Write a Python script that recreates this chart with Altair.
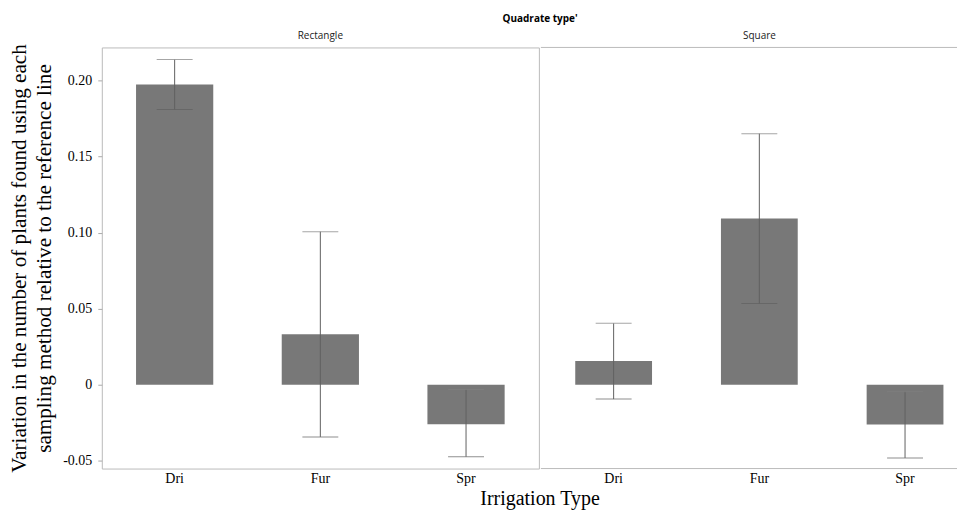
import altair as alt
import pandas as pd

quad = ["Rectangle", "Rectangle", "Rectangle", "Square", "Square", "Square"]
irrig = ["Dri", "Fur", "Spr", "Dri", "Fur", "Spr"]
mean = [0.1974, 0.0331, -0.0260, 0.0156, 0.1093, -0.0262]
lo = [0.1810, -0.0344, -0.0474, -0.0095, 0.0534, -0.0482]
hi = [0.2138, 0.1006, -0.0032, 0.0403, 0.1651, -0.0047]

df = pd.DataFrame({"quad": quad, "irrig": irrig, "mean": mean, "lo": lo, "hi": hi})

yticks = [-0.05, 0, 0.05, 0.1, 0.15, 0.2]
ydomain = [-0.0552, 0.2218]

PW = 438      # left panel width
RW = 417      # visible width of the right panel
PH = 422

yscale = alt.Scale(domain=ydomain, nice=False, zero=False)

x_axis = alt.Axis(ticks=False, domain=False, labelAngle=0, labelPadding=3,
                  labelFont="Liberation Serif", labelFontSize=14, labelColor="#000")
y_axis = alt.Axis(values=yticks, domain=False, grid=False, tickSize=4, tickColor="#aaaaaa",
                  labelPadding=6, labelFont="Liberation Serif", labelFontSize=14, labelColor="#000",
                  labelExpr="datum.value == 0 ? '0' : replace(format(datum.value, '.2f'), '\u2212', '-')",
                  title=["Variation in the number of plants found using each",
                         "sampling method relative to the reference line"],
                  titleFont="Liberation Serif", titleFontSize=21.2, titleFontWeight="normal",
                  titleColor="#000", titlePadding=8, titleLineHeight=25)


def panel(name, show_y, width, xs, title_dx, title_offset):
    sub = df[df["quad"] == name]
    base = alt.Chart(sub)
    bars = base.mark_bar(color="#787878").encode(
        x=alt.X("irrig:N", scale=xs, title=None, axis=x_axis),
        y=alt.Y("mean:Q", scale=yscale, axis=y_axis if show_y else None),
    )
    rules = base.mark_rule(color="#606060", strokeWidth=1).encode(
        x="irrig:N", y="lo:Q", y2="hi:Q"
    )
    cap_lo = base.mark_tick(color="#606060", size=36, thickness=1).encode(x="irrig:N", y="lo:Q")
    cap_hi = base.mark_tick(color="#808080", size=36, thickness=1).encode(x="irrig:N", y="hi:Q")
    layers = [bars, rules, cap_lo, cap_hi]
    props = dict(width=width, height=PH,
                 title=alt.TitleParams(name, font="Open Sans", fontSize=10, fontWeight="normal",
                                       color="#222", anchor="middle", frame="group",
                                       offset=title_offset, dx=title_dx))
    if not show_y:
        one = alt.Chart(alt.Data(values=[{"k": 0}]))
        top = one.mark_rule(color="#bbbbbb").encode(
            x=alt.value(0), x2=alt.value(width), y=alt.value(0))
        bot = one.mark_rule(color="#bbbbbb").encode(
            x=alt.value(0), x2=alt.value(width), y=alt.value(PH))
        layers += [top, bot]
        props["view"] = alt.ViewBackground(stroke="transparent")
    return alt.layer(*layers).properties(**props)


left = panel("Rectangle", True, PW,
             alt.Scale(paddingInner=0.47, paddingOuter=0.235), 0, 3)
right = panel("Square", False, RW,
              alt.Scale(paddingInner=0.473, paddingOuter=0.1645, align=0.717), (PW - RW) / 2, 6)

inner = alt.hconcat(left, right, spacing=0).properties(
    title=alt.TitleParams("Irrigation Type", orient="bottom", anchor="middle", frame="bounds",
                          font="Liberation Serif", fontSize=20, fontWeight="normal",
                          color="#000", offset=3, dx=57)
)

chart = alt.vconcat(inner).properties(
    title=alt.TitleParams("Quadrate type'", anchor="middle", frame="bounds",
                          font="Open Sans", fontSize=10, fontWeight="bold",
                          color="#000", offset=6, dx=57),
    padding={"left": 0, "top": 5, "right": 0, "bottom": 0},
).configure_view(stroke="#bbbbbb").configure_axis(grid=False).configure_concat(spacing=0)

chart.save("out.html", embed_options={"renderer": "svg", "actions": False})
